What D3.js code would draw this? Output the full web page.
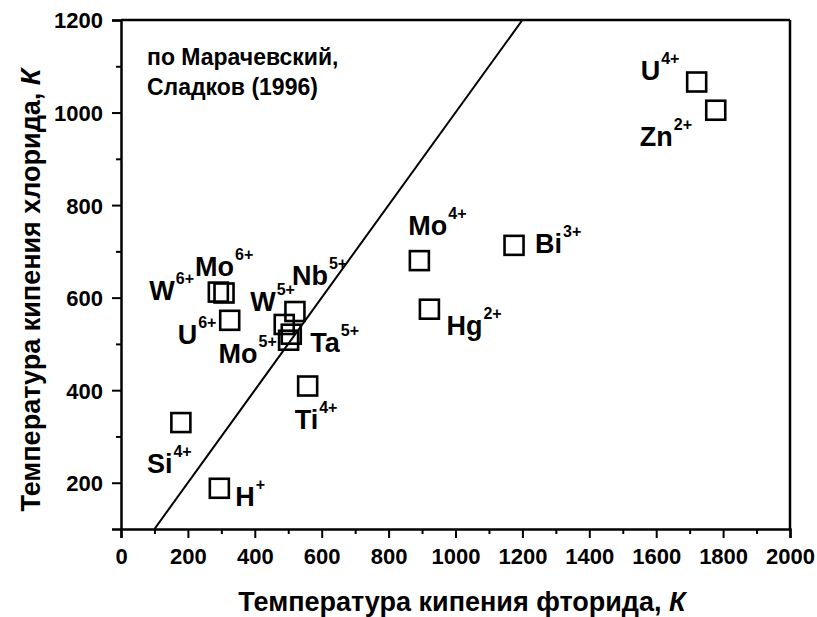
<!DOCTYPE html>
<html>
<head>
<meta charset="utf-8">
<script src="https://cdn.jsdelivr.net/npm/d3@7"></script>
<style>
  html, body { margin: 0; padding: 0; background: #fff; }
  svg { display: block; }
  text { font-family: "Liberation Sans", Arial, sans-serif; font-weight: bold; fill: #000; }
</style>
</head>
<body>
<svg id="chart" width="817" height="617"></svg>
<script>
// Boiling points of fluorides vs chlorides for various ions (K)
const ionSymbols = ["U", "Zn", "Bi", "Mo", "Hg", "Ti", "Si", "H", "W", "Mo", "U", "Nb", "W", "Ta", "Mo"];
const ionCharges = ["4+", "2+", "3+", "4+", "2+", "4+", "4+", "+", "6+", "6+", "6+", "5+", "5+", "5+", "5+"];
const fluorideBp = [1721, 1778, 1175, 892, 922, 558, 179, 294, 291, 308, 325, 520, 488, 509, 501];
const chlorideBp = [1066, 1005, 713, 680, 575, 409, 330, 188, 612, 610, 551, 570, 542, 521, 508];

// Label placement relative to each marker (px): [dx, dy] of the symbol's baseline start
const labelOffsets = [[-56, -2], [-76, 36], [21, 8], [-11, -26], [17, 26], [-13, 43], [-34, 50], [16, 18],
                      [-69, 8], [-29, -17], [-52, 24], [-3, -27], [-34, -13], [19, 18], [-70, 23]];

const xTicks = [0, 200, 400, 600, 800, 1000, 1200, 1400, 1600, 1800, 2000];
const yTicks = [200, 400, 600, 800, 1000, 1200];
const xDomain = [0, 2000];
const yDomain = [100, 1200];
// Reference line T(chloride) = T(fluoride)
const refLine = [[100, 100], [1200, 1200]];
const noteLines = ["по Марачевский,", "Сладков (1996)"];
const xTitle = "Температура кипения фторида, ";
const yTitle = "Температура кипения хлорида, ";
const unit = "К";

const W = 817, H = 617;
const margin = { top: 20, right: 27, bottom: 88, left: 121 };
const iw = W - margin.left - margin.right;
const ih = H - margin.top - margin.bottom;

const svg = d3.select("#chart");
const g = svg.append("g").attr("transform", `translate(${margin.left},${margin.top})`);

const x = d3.scaleLinear().domain(xDomain).range([0, iw]);
const y = d3.scaleLinear().domain(yDomain).range([ih, 0]);

svg.append("defs").append("clipPath").attr("id", "plot-clip")
  .append("rect").attr("width", iw).attr("height", ih);

// Minor ticks halfway between the labelled ones
const xMinor = d3.range(100, 2000, 200);
const yMinor = d3.range(300, 1200, 200);

const xAxis = d3.axisBottom(x).tickValues(xTicks).tickSize(9).tickPadding(10).tickFormat(d3.format("d"));
const yAxis = d3.axisLeft(y).tickValues(yTicks).tickSize(9).tickPadding(9).tickFormat(d3.format("d"));

const gx = g.append("g").attr("transform", `translate(0,${ih})`).call(xAxis);
const gy = g.append("g").call(yAxis);

g.append("g").attr("transform", `translate(0,${ih})`)
  .call(d3.axisBottom(x).tickValues(xMinor).tickSize(5).tickFormat(""))
  .call(s => s.select(".domain").remove());
g.append("g")
  .call(d3.axisLeft(y).tickValues(yMinor).tickSize(5).tickFormat(""))
  .call(s => s.select(".domain").remove());

g.selectAll(".tick line").attr("stroke", "#000").attr("stroke-width", 2);
[gx, gy].forEach(a => {
  a.select(".domain").attr("stroke", "#000").attr("stroke-width", 2.5);
  a.selectAll(".tick text").attr("font-size", 22).attr("font-family", "Liberation Sans, Arial, sans-serif")
    .attr("font-weight", "bold").attr("fill", "#000");
});
gy.selectAll(".tick text").attr("dy", "0.36em");

// Frame: top and right edges
g.append("line").attr("x1", 0).attr("x2", iw).attr("y1", 0).attr("y2", 0)
  .attr("stroke", "#000").attr("stroke-width", 2.5);
g.append("line").attr("x1", iw).attr("x2", iw).attr("y1", 0).attr("y2", ih)
  .attr("stroke", "#000").attr("stroke-width", 2.5);

// Reference line
g.append("path")
  .attr("clip-path", "url(#plot-clip)")
  .attr("d", d3.line().x(d => x(d[0])).y(d => y(d[1]))(refLine))
  .attr("fill", "none").attr("stroke", "#000").attr("stroke-width", 2);

// Markers
const pts = fluorideBp.map((v, i) => ({ fx: v, cl: chlorideBp[i], sym: ionSymbols[i], ch: ionCharges[i], off: labelOffsets[i] }));
const sq = 19;
g.selectAll("rect.pt").data(pts).join("rect")
  .attr("class", "pt")
  .attr("x", d => x(d.fx) - sq / 2).attr("y", d => y(d.cl) - sq / 2)
  .attr("width", sq).attr("height", sq)
  .attr("fill", "none").attr("stroke", "#000").attr("stroke-width", 2.6);

// Ion labels with superscript charges
const lab = g.selectAll("text.ion").data(pts).join("text")
  .attr("class", "ion")
  .attr("x", d => x(d.fx) + d.off[0]).attr("y", d => y(d.cl) + d.off[1])
  .attr("font-size", 27);
lab.append("tspan").text(d => d.sym);
lab.append("tspan").attr("dx", 1).attr("dy", -16).attr("font-size", 16).text(d => d.ch);

// Source note
const note = g.append("text").attr("font-size", 23).attr("x", 26).attr("y", 45);
noteLines.forEach((t, i) => note.append("tspan").attr("x", 26).attr("dy", i === 0 ? 0 : 30).text(t));

// Axis titles
const xt = svg.append("text").attr("x", 462).attr("y", 611)
  .attr("text-anchor", "middle").attr("font-size", 27);
xt.append("tspan").text(xTitle);
xt.append("tspan").attr("font-style", "italic").text(unit);

const yt = svg.append("text").attr("transform", `translate(40,290) rotate(-90)`)
  .attr("text-anchor", "middle").attr("font-size", 27);
yt.append("tspan").text(yTitle);
yt.append("tspan").attr("font-style", "italic").text(unit);
</script>
</body>
</html>
